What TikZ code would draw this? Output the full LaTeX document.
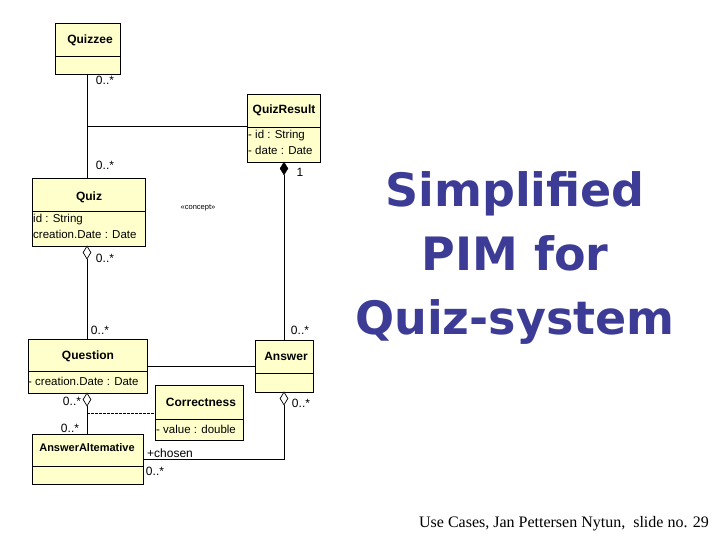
\documentclass[tikz,border=0pt]{standalone}
\usepackage{fontspec}
\setmainfont{Liberation Sans}
\newfontfamily\ttl{DejaVu Sans}
\newfontfamily\ftr{Liberation Serif}
\usetikzlibrary{shapes.geometric}
\definecolor{boxy}{HTML}{FFFFCC}
\definecolor{ttlc}{HTML}{3C3C96}
\begin{document}
\begin{tikzpicture}[x=1pt,y=-1pt,
  cls/.style={draw,fill=boxy,line width=0.8pt},
  lab/.style={font=\fontsize{12}{13}\selectfont,inner sep=0pt},
  nm/.style={font=\bfseries\fontsize{12}{13}\selectfont,inner sep=0pt},
  attr/.style={font=\fontsize{11.5}{13}\selectfont,inner sep=0pt,anchor=west},
  odia/.style={draw,fill=white,diamond,inner sep=0pt,minimum width=8pt,minimum height=13pt,line width=0.7pt},
  fdia/.style={draw,fill=black,diamond,inner sep=0pt,minimum width=8pt,minimum height=13pt},
  ln/.style={line width=0.7pt}]
\useasboundingbox (0,0) rectangle (720,540);
% boxes
\draw[cls] (55,23) rectangle (120,74); \draw (55,56)--(120,56);
\node[nm] (quizzee) at (90,40) {Quizzee};
\coordinate (qzb) at (87,74);
\draw[cls] (247,94) rectangle (320,162); \draw (247,127)--(320,127);
\node[nm] (qr) at (284,110) {QuizResult};
\node[attr] (qra) at (248,136) {- id : String};
\node[attr] (qrb) at (248,150) {- date : Date};
\coordinate (qrl) at (247,126);
\draw[cls] (32,178) rectangle (145,246); \draw (32,211)--(145,211);
\node[nm] (quiz) at (89,197) {Quiz};
\node[attr] (qa) at (33,220) {id : String};
\node[attr] (qb) at (33,234) {creation.Date : Date};
\draw[cls] (28,339) rectangle (147,393); \draw (28,371)--(147,371);
\node[nm] (question) at (88,356) {Question};
\node[attr] (qua) at (28,381) {- creation.Date : Date};
\draw[cls] (255,340) rectangle (313,392); \draw (255,373)--(313,373);
\node[nm] (answer) at (286,356) {Answer};
\draw[cls] (155,385) rectangle (243,440); \draw (155,419)--(243,419);
\node[nm] (corr) at (201,402) {Correctness};
\node[attr] (ca) at (156,429) {- value : double};
\draw[cls] (32,434) rectangle (143,484); \draw (32,466)--(143,466);
\node[nm,font=\bfseries\fontsize{11}{13}\selectfont] (aa) at (87,448) {AnswerAltemative};
% connectors
\coordinate (qzt) at (87,178);
\draw[ln] (qzb) -- (qzt);
\coordinate (mid) at (87,126);
\draw[ln] (mid) -- (qrl);
\node[fdia] (d1) at (284,168.5) {};
\coordinate (ant) at (284,340);
\draw[ln] (d1.south) -- (ant);
\node[odia] (d2) at (87,252.5) {};
\coordinate (qut) at (87,339);
\draw[ln] (d2.south) -- (qut);
\coordinate (qur) at (147,366); \coordinate (anl) at (255,366);
\draw[ln] (qur) -- (anl);
\node[odia] (d3) at (87,399.5) {};
\coordinate (aat) at (87,434);
\draw[ln] (d3.south) -- (aat);
\coordinate (dq) at (87,413); \coordinate (cl) at (155,413);
\draw[ln,dash pattern=on 3pt off 1pt] (dq) -- (cl);
\node[odia] (d4) at (284,398.5) {};
\coordinate (aar) at (143,459);
\draw[ln] (d4.south) |- (aar);
% labels
\node[lab] (l1) at (105,80) {0..*};
\node[lab] (l2) at (105,165) {0..*};
\node[lab] (l3) at (300,172) {1};
\node[font=\fontsize{7.5}{8}\selectfont,inner sep=0pt] (cc) at (198,208) {<<concept>>};
\node[lab] (l4) at (105,258) {0..*};
\node[lab] (l5) at (100,330) {0..*};
\node[lab] (l6) at (300,330) {0..*};
\node[lab] (l7) at (72,401) {0..*};
\node[lab] (l8) at (70,428) {0..*};
\node[lab] (l9) at (301,403) {0..*};
\node[lab] (l10) at (170,453) {+chosen};
\node[lab] (l11) at (155,471) {0..*};
% title
\node[font=\ttl\bfseries\fontsize{46}{64}\selectfont,text=ttlc,align=center] (title) at (515,258) {Simplified\\PIM for\\Quiz-system};
\node[font=\ftr\fontsize{16}{18}\selectfont] (foot) at (564,524) {Use Cases, Jan Pettersen Nytun,\ \ slide no. 29};
\end{tikzpicture}
\end{document}
